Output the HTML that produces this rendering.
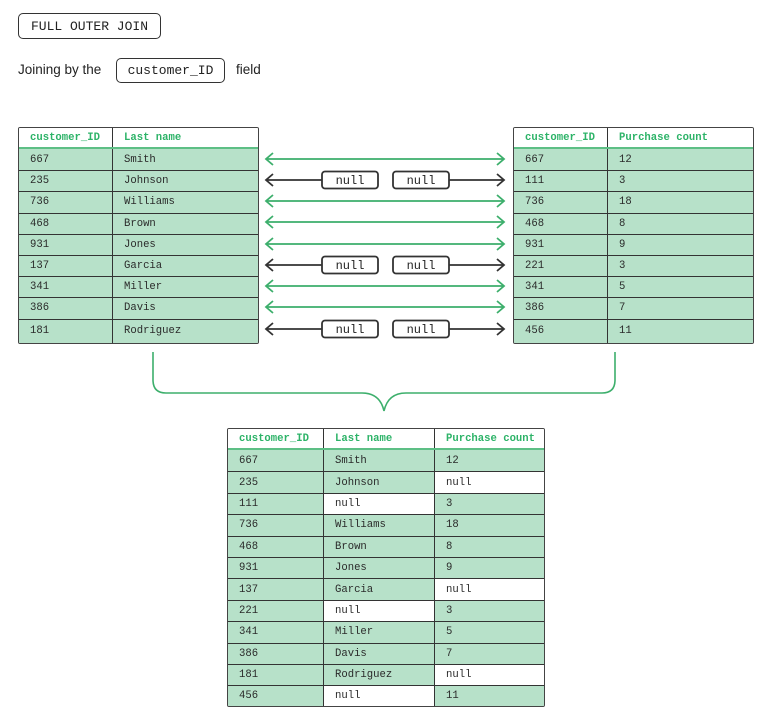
<!DOCTYPE html>
<html><head><style>
body{margin:0;width:767px;height:720px;background:#fff;position:relative;font-family:"Liberation Mono",monospace;overflow:hidden}
.a{position:absolute}
.tag{position:absolute;border:1.3px solid #333;border-radius:5px;box-sizing:border-box;font-size:13px;color:#222;display:flex;align-items:center;justify-content:center}
.t{position:absolute;border:1.3px solid #444;border-radius:2px;box-sizing:border-box;font-size:10.6px;color:#2a2a2a;overflow:hidden;display:flex;flex-direction:column}
.r{display:flex;box-sizing:border-box;border-top:1px solid #333;background:#b7e1c9;flex:none}
.r:last-child{flex:1}
.r.h{background:#fff;border-top:none;border-bottom:2px solid #5dbf85;color:#2db368;font-weight:bold}
.r.h+.r{border-top:none}
.c{box-sizing:border-box;padding-left:11px;display:flex;align-items:center;border-left:1px solid #333}
.c:first-child{border-left:none}
.w{background:#fff}
</style></head><body>
<div class="tag" style="left:18px;top:13px;width:143px;height:26px">FULL OUTER JOIN</div>
<div class="a" style="left:18px;top:62px;font-family:'Liberation Sans',sans-serif;font-size:13.5px;color:#222">Joining by the</div>
<div class="tag" style="left:116px;top:58px;width:109px;height:25px">customer_ID</div>
<div class="a" style="left:236px;top:62px;font-family:'Liberation Sans',sans-serif;font-size:13.5px;color:#222">field</div>

<div class="t" style="left:18px;top:127px;width:241px;height:217px">
<div class="r h" style="height:21px"><div class="c" style="width:93px">customer_ID</div><div class="c">Last name</div></div>
<div class="r" style="height:21.2px"><div class="c" style="width:93px">667</div><div class="c">Smith</div></div>
<div class="r" style="height:21.2px"><div class="c" style="width:93px">235</div><div class="c">Johnson</div></div>
<div class="r" style="height:21.2px"><div class="c" style="width:93px">736</div><div class="c">Williams</div></div>
<div class="r" style="height:21.2px"><div class="c" style="width:93px">468</div><div class="c">Brown</div></div>
<div class="r" style="height:21.2px"><div class="c" style="width:93px">931</div><div class="c">Jones</div></div>
<div class="r" style="height:21.2px"><div class="c" style="width:93px">137</div><div class="c">Garcia</div></div>
<div class="r" style="height:21.2px"><div class="c" style="width:93px">341</div><div class="c">Miller</div></div>
<div class="r" style="height:21.2px"><div class="c" style="width:93px">386</div><div class="c">Davis</div></div>
<div class="r" style="height:22px"><div class="c" style="width:93px">181</div><div class="c">Rodriguez</div></div>
</div>

<div class="t" style="left:513px;top:127px;width:241px;height:217px">
<div class="r h" style="height:21px"><div class="c" style="width:93px">customer_ID</div><div class="c">Purchase count</div></div>
<div class="r" style="height:21.2px"><div class="c" style="width:93px">667</div><div class="c">12</div></div>
<div class="r" style="height:21.2px"><div class="c" style="width:93px">111</div><div class="c">3</div></div>
<div class="r" style="height:21.2px"><div class="c" style="width:93px">736</div><div class="c">18</div></div>
<div class="r" style="height:21.2px"><div class="c" style="width:93px">468</div><div class="c">8</div></div>
<div class="r" style="height:21.2px"><div class="c" style="width:93px">931</div><div class="c">9</div></div>
<div class="r" style="height:21.2px"><div class="c" style="width:93px">221</div><div class="c">3</div></div>
<div class="r" style="height:21.2px"><div class="c" style="width:93px">341</div><div class="c">5</div></div>
<div class="r" style="height:21.2px"><div class="c" style="width:93px">386</div><div class="c">7</div></div>
<div class="r" style="height:22px"><div class="c" style="width:93px">456</div><div class="c">11</div></div>
</div>

<svg class="a" style="left:0;top:0" width="767" height="720">
<defs>
<g id="ga" fill="none" stroke="#3daf6c" stroke-width="1.8"><path d="M266 0H504M273 -6L266 0L273 6M497 -6L504 0L497 6"/></g>
<g id="ba" fill="none" stroke="#333" stroke-width="1.8"><path d="M266 0H322M273 -6L266 0L273 6M449 0H504M497 -6L504 0L497 6"/><rect x="322" y="-8.5" width="56" height="17" rx="3"/><rect x="393" y="-8.5" width="56" height="17" rx="3"/></g>
</defs>
<use href="#ga" y="159"/>
<use href="#ba" y="180"/>
<use href="#ga" y="201"/>
<use href="#ga" y="222"/>
<use href="#ga" y="244"/>
<use href="#ba" y="265"/>
<use href="#ga" y="286"/>
<use href="#ga" y="307"/>
<use href="#ba" y="329"/>
<g font-family="Liberation Mono,monospace" font-size="12" fill="#222" text-anchor="middle">
<text x="350" y="184">null</text><text x="421" y="184">null</text>
<text x="350" y="269">null</text><text x="421" y="269">null</text>
<text x="350" y="333">null</text><text x="421" y="333">null</text>
</g>
<path d="M153 352V380Q153 393 166 393H362Q380 393 384 411Q388 393 406 393H602Q615 393 615 380V352" fill="none" stroke="#3daf6c" stroke-width="1.6"/>
</svg>

<div class="t" style="left:227px;top:428px;width:318px;height:279px">
<div class="r h" style="height:21px"><div class="c" style="width:95px">customer_ID</div><div class="c" style="width:111px">Last name</div><div class="c">Purchase count</div></div>
<div class="r" style="height:21.4px"><div class="c" style="width:95px">667</div><div class="c" style="width:111px">Smith</div><div class="c">12</div></div>
<div class="r" style="height:21.4px"><div class="c" style="width:95px">235</div><div class="c" style="width:111px">Johnson</div><div class="c w" style="flex:1">null</div></div>
<div class="r" style="height:21.4px"><div class="c" style="width:95px">111</div><div class="c w" style="width:111px">null</div><div class="c">3</div></div>
<div class="r" style="height:21.4px"><div class="c" style="width:95px">736</div><div class="c" style="width:111px">Williams</div><div class="c">18</div></div>
<div class="r" style="height:21.4px"><div class="c" style="width:95px">468</div><div class="c" style="width:111px">Brown</div><div class="c">8</div></div>
<div class="r" style="height:21.4px"><div class="c" style="width:95px">931</div><div class="c" style="width:111px">Jones</div><div class="c">9</div></div>
<div class="r" style="height:21.4px"><div class="c" style="width:95px">137</div><div class="c" style="width:111px">Garcia</div><div class="c w" style="flex:1">null</div></div>
<div class="r" style="height:21.4px"><div class="c" style="width:95px">221</div><div class="c w" style="width:111px">null</div><div class="c">3</div></div>
<div class="r" style="height:21.4px"><div class="c" style="width:95px">341</div><div class="c" style="width:111px">Miller</div><div class="c">5</div></div>
<div class="r" style="height:21.4px"><div class="c" style="width:95px">386</div><div class="c" style="width:111px">Davis</div><div class="c">7</div></div>
<div class="r" style="height:21.4px"><div class="c" style="width:95px">181</div><div class="c" style="width:111px">Rodriguez</div><div class="c w" style="flex:1">null</div></div>
<div class="r" style="height:22px"><div class="c" style="width:95px">456</div><div class="c w" style="width:111px">null</div><div class="c">11</div></div>
</div>
</body></html>
